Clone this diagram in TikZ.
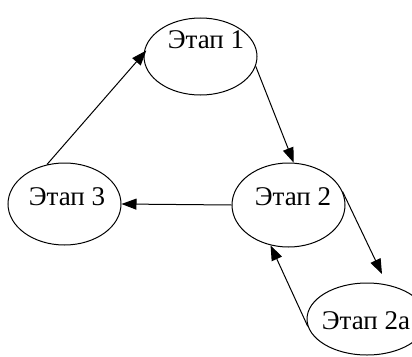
\documentclass[tikz,border=0pt]{standalone}
\usepackage{fontspec}
\setmainfont{Liberation Serif}
\usetikzlibrary{shapes.geometric,arrows.meta}
\begin{document}
\begin{tikzpicture}[x=1pt,y=-1pt,
  stage/.style={draw, ellipse, line width=1pt, inner sep=0pt},
  lbl/.style={inner sep=0pt, font=\fontsize{27}{30}\selectfont},
  conn/.style={line width=1pt, -{Triangle[length=15pt,width=11pt]}}]
\useasboundingbox (0,0) rectangle (412,356);
\begin{scope}
\clip (0,0) rectangle (412,356);
\node[stage, minimum width=113pt, minimum height=77pt] (e1) at (200.5,56.5) {};
\node[stage, minimum width=113pt, minimum height=84pt] (e2) at (288.5,205) {};
\node[stage, minimum width=113pt, minimum height=82pt] (e3) at (64.5,204) {};
\node[stage, minimum width=120pt, minimum height=72pt] (e2a) at (367,319) {};
\end{scope}
\node[lbl] (t1) at (206,40) {Этап 1};
\node[lbl] (t2) at (293,197) {Этап 2};
\node[lbl] (t3) at (67,197) {Этап 3};
\node[lbl] (t2a) at (366,321) {Этап 2а};
\coordinate (p4) at (382,274);
\draw[conn, shorten >=-4pt] (e3.114) -- (e1.177);
\draw[conn] (e1.-10) -- (e2.83);
\draw[conn] (e2.west) -- (e3.east);
\draw[conn] (e2.14) -- (p4);
\draw[conn] (e2a.187) -- (e2.246);
\end{tikzpicture}
\end{document}
